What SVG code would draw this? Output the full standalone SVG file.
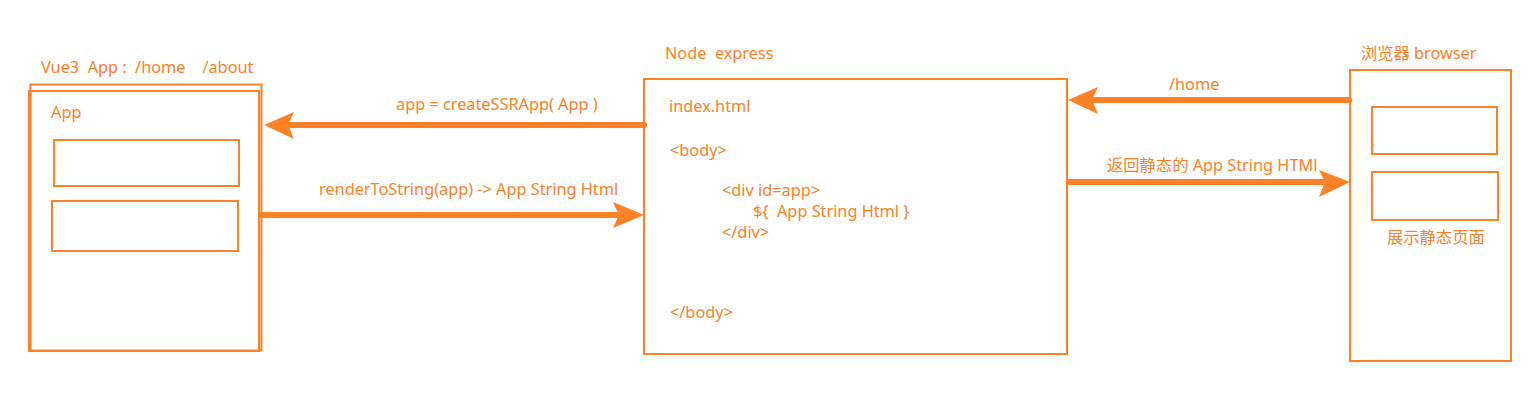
<svg xmlns="http://www.w3.org/2000/svg" width="1529" height="400" viewBox="0 0 1529 400">
<style>
.box{fill:none;stroke:#fd8127;stroke-width:2}
.t{font-family:"Noto Sans","Noto Sans CJK SC",sans-serif;font-size:16.3px;fill:#fd8127}
.ln{stroke:#fd8127;stroke-width:6;stroke-linecap:round;fill:none}
.hd{fill:#fd8127}
</style>
<rect width="1529" height="400" fill="#fff"/>
<g id="vue-app">
<text class="t" x="41" y="73" xml:space="preserve">Vue3  App :  /home    /about</text>
<rect class="box" x="30.5" y="84.5" width="231" height="266" stroke-width="1.5"/>
<rect class="box" x="29" y="91" width="230" height="260"/>
<text class="t" x="51" y="118">App</text>
<rect class="box" x="54" y="140" width="185" height="46"/>
<rect class="box" x="52" y="201" width="186" height="50"/>
</g>
<g id="node-express">
<text class="t" x="665" y="59" xml:space="preserve">Node  express</text>
<rect class="box" x="644" y="79" width="423" height="275"/>
<text class="t" x="669" y="112">index.html</text>
<text class="t" x="670" y="156">&lt;body&gt;</text>
<text class="t" x="722" y="196">&lt;div id=app&gt;</text>
<text class="t" x="753" y="217" xml:space="preserve">${  App String Html }</text>
<text class="t" x="722" y="238">&lt;/div&gt;</text>
<text class="t" x="670" y="318">&lt;/body&gt;</text>
</g>
<g id="browser">
<text class="t" x="1361" y="59">浏览器 browser</text>
<rect class="box" x="1350" y="70" width="161" height="291"/>
<rect class="box" x="1372" y="107" width="125" height="47"/>
<rect class="box" x="1372" y="172" width="126" height="48"/>
<text class="t" x="1387" y="243">展示静态页面</text>
</g>
<g id="connectors">
<line class="ln" x1="644" y1="125" x2="285" y2="125"/>
<polygon class="hd" points="264,125 294,112 288,125 294,139"/>
<text class="t" x="396" y="110">app = createSSRApp( App )</text>
<line class="ln" x1="261" y1="215" x2="624" y2="215"/>
<polygon class="hd" points="644,215 613,202 619,215 613,228"/>
<text class="t" x="319" y="195">renderToString(app) -&gt; App String Html</text>
<line class="ln" x1="1349" y1="100" x2="1088" y2="100"/>
<polygon class="hd" points="1068,100 1098,87 1092,100 1098,114"/>
<text class="t" x="1169" y="90">/home</text>
<line class="ln" x1="1070" y1="182" x2="1330" y2="182"/>
<polygon class="hd" points="1350,182 1319,170 1325,182 1319,197"/>
<text class="t" x="1107" y="171">返回静态的 App String HTMl</text>
</g>
</svg>
